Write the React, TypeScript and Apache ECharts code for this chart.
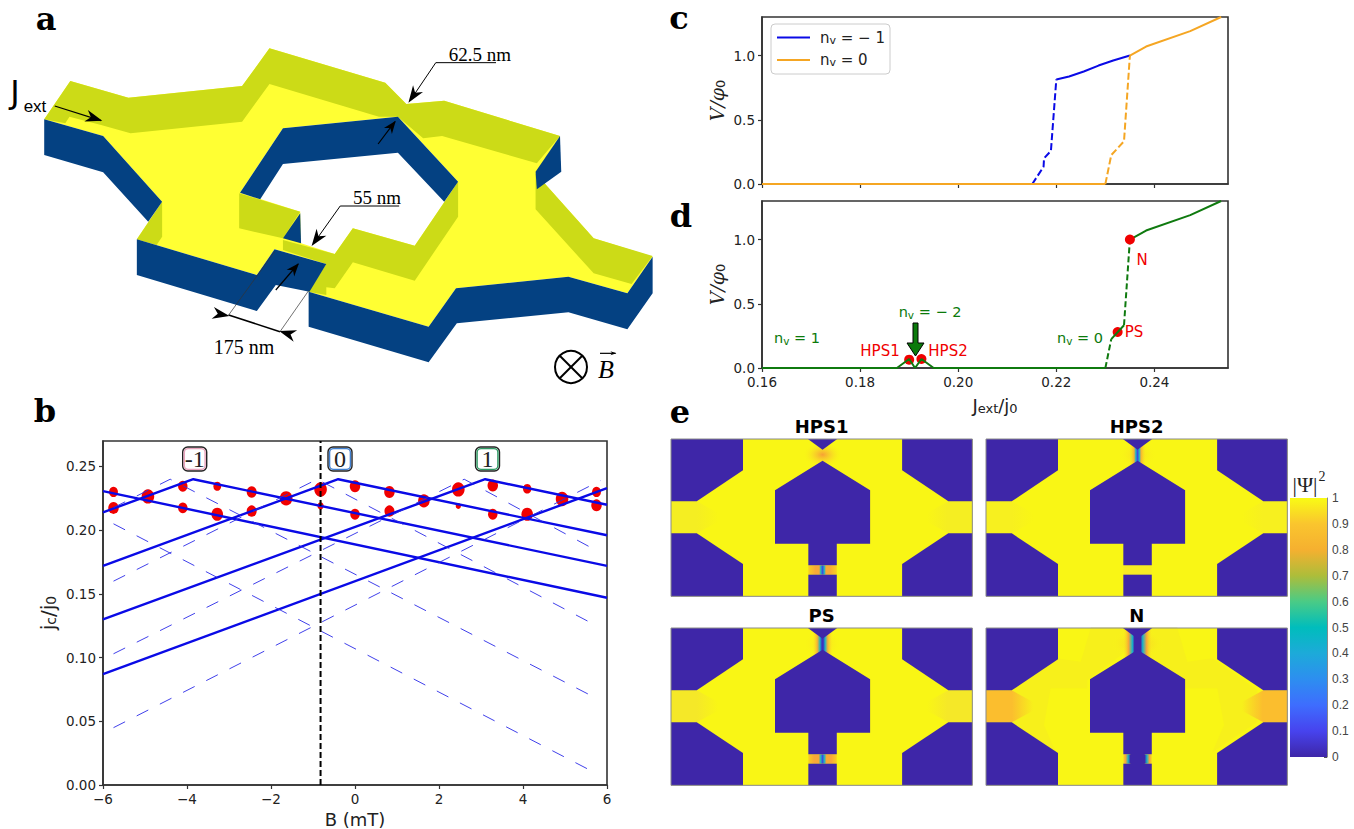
import React, { useEffect, useRef } from "react";
import * as echarts from "echarts";

// ---------- panel b data ----------
const bSolid1 = [[-6, 0.214], [-3.85, 0.24], [6, 0.172]];
const bSolid2 = [[-6, 0.172], [-0.4, 0.24], [6, 0.196]];
const bSolid3 = [[-6, 0.13], [3.1, 0.24], [6, 0.22]];
const bSolid4 = [[-6, 0.087], [6, 0.233]];
const bSolid5 = [[-6, 0.2307], [6, 0.147]];
const bDash1 = [[-5.75, 0.2177], [-4.4, 0.24], [5.75, 0.068]];
const bDash2 = [[-5.75, 0.16], [-0.9, 0.24], [5.75, 0.125]];
const bDash3 = [[-5.75, 0.103], [2.6, 0.24], [5.75, 0.184]];
const bDash4 = [[-5.75, 0.045], [5.85, 0.239]];
const bDash5 = [[-5.75, 0.205], [5.75, 0.009]];
const bVertical = [[-0.82, 0], [-0.82, 0.27]];
// x, y, marker weight
const bDots = [
  [-5.75, 0.23, 8.5], [-5.75, 0.2175, 10], [-4.93, 0.2265, 12], [-4.1, 0.2345, 9], [-4.1, 0.2175, 9],
  [-3.28, 0.2345, 7.5], [-3.28, 0.2125, 11], [-2.46, 0.23, 9.5], [-2.46, 0.215, 9.5], [-1.64, 0.225, 12],
  [-0.82, 0.232, 12], [-0.82, 0.219, 6], [0, 0.2345, 10], [0, 0.2125, 9], [0.82, 0.23, 10], [0.82, 0.215, 9.5],
  [1.64, 0.223, 11], [2.46, 0.232, 12], [2.46, 0.219, 5], [3.28, 0.235, 10], [3.28, 0.2125, 9], [4.1, 0.2325, 8],
  [4.1, 0.2125, 11], [4.93, 0.2245, 12], [5.75, 0.23, 8.5], [5.75, 0.2195, 10],
];
const bXTicks = [-6, -4, -2, 0, 2, 4, 6];
const bYTicks = [0, 0.05, 0.1, 0.15, 0.2, 0.25];

// ---------- panels c, d data ----------
const cBlueFlat = [[0.16, 0], [0.2151, 0]];
const cBlueDash = [[0.2151, 0], [0.2174, 0.134], [0.2175, 0.2], [0.2189, 0.258], [0.22, 0.814]];
const cBlueSolid = [[0.22, 0.814], [0.2226, 0.837], [0.2256, 0.876], [0.2286, 0.922], [0.2316, 0.961], [0.235, 1.0]];
const cOrangeFlat = [[0.16, 0], [0.23, 0]];
const cOrangeDash = [[0.23, 0], [0.2312, 0.225], [0.2338, 0.333], [0.235, 1.0]];
const cOrangeSolid = [[0.235, 1.0], [0.2383, 1.07], [0.2473, 1.19], [0.2536, 1.3]];
const dSolidLow = [[0.16, 0], [0.1875, 0], [0.19, 0.07], [0.1912, 0], [0.1925, 0.07], [0.195, 0], [0.23, 0]];
const dDashA = [[0.23, 0], [0.2312, 0.225]];
const dSolidMid = [[0.2312, 0.225], [0.2338, 0.333]];
const dDashB = [[0.2338, 0.333], [0.235, 1.0]];
const dSolidHigh = [[0.235, 1.0], [0.2383, 1.07], [0.2473, 1.19], [0.2536, 1.3]];
const dDotsLow = [[0.19, 0.065], [0.1925, 0.07], [0.2325, 0.28]];
const dDotsTop = [[0.235, 1.0]];
const jXTicks = [0.16, 0.18, 0.2, 0.22, 0.24];
const vYTicks = [0, 0.5, 1];

// ---------- colour bar ----------
const parulaStops = [
  [0, "#3E26A8"], [0.1, "#4743EE"], [0.2, "#3E6DFE"], [0.3, "#2D8EF0"], [0.4, "#1DAAD9"], [0.5, "#00BDBC"],
  [0.6, "#4ACB86"], [0.7, "#ADBD3A"], [0.8, "#F5B030"], [0.9, "#FAC52E"], [1, "#F9FB15"],
];
const barValue = [1];

// ---------- schematic a (in a crop's own units) ----------
const aYellow = [[105,358],[245,408],[385,605],[325,718],[610,825],[652,748],[775,792],[733,875],[1018,980],[1083,865],[1350,830],[1490,880],[1550,770],[1410,715],[1272,520],[1330,408],[1055,302],[965,312],[915,248],[640,145],[575,258],[305,293],[167,243]];
const aHole = [[570,578],[672,385],[945,350],[1088,545],[985,737],[838,685],[795,762],[715,730],[713,635]];
const aOlive = [
  [[105,358],[167,243],[305,293],[575,258],[640,145],[915,248],[965,312],[1055,302],[1330,408],[1275,490],[1050,408],[1005,415],[945,350],[900,350],[640,252],[575,365],[310,400],[240,375],[165,350],[155,370]],
  [[568,580],[713,635],[672,715],[568,685]],
  [[672,720],[795,762],[838,685],[985,737],[1088,545],[1088,650],[985,842],[838,787],[795,865],[775,862],[775,885],[733,875],[775,792],[672,750]],
  [[1272,520],[1410,715],[1550,768],[1500,852],[1410,820],[1272,628]],
  [[385,605],[385,710],[372,735],[325,718]],
];
const aBlue = [
  [[105,358],[245,408],[385,605],[352,665],[245,517],[105,465]],
  [[325,718],[610,825],[652,748],[775,792],[735,875],[655,855],[610,933],[325,825]],
  [[733,875],[1018,980],[1083,865],[1350,830],[1490,880],[1550,770],[1550,880],[1490,988],[1350,937],[1085,970],[1018,1087],[733,980]],
  [[1330,408],[1272,515],[1275,568],[1333,515]],
  [[570,578],[672,385],[945,350],[1088,545],[1055,605],[945,458],[672,492],[618,598]],
  [[713,640],[672,715],[715,730]],
];

// ---------- map panels e (in a crop's own units) ----------
const eHoles = [
  [[24,118],[186,118],[186,212],[82,305],[24,305]],
  [[702,118],[544,118],[544,212],[648,305],[702,305]],
  [[24,590],[186,590],[186,493],[82,401],[24,401]],
  [[702,590],[544,590],[544,493],[648,401],[702,401]],
  [[332,118],[398,118],[365,150]],
  [[365,183],[472,272],[472,432],[397,432],[397,497],[333,497],[333,432],[258,432],[258,272]],
  [[333,525],[397,525],[397,590],[333,590]],
];
const nTintLeft = [[320,8],[430,8],[440,70],[310,165],[310,190],[200,190],[180,300],[215,382],[80,290],[80,195],[215,100],[290,110]];

const OUT = "rgba(249,251,21,0)";
const OR = "#F7A838";
function hStops(list: any[]) { return list.map(([offset, color]) => ({ offset, color })); }
const hg = (list: any[]) => new echarts.graphic.LinearGradient(0, 0, 1, 0, hStops(list));
const rg = (list: any[]) => new echarts.graphic.RadialGradient(0.5, 0.5, 0.5, hStops(list));

const neckStops: any = {
  HPS2: [[0, OUT], [0.3, "rgba(247,168,56,.8)"], [0.4, "#19B4C8"], [0.5, "#3E4AE0"], [0.6, "#19B4C8"], [0.7, "rgba(247,168,56,.8)"], [1, OUT]],
  PS: [[0, OUT], [0.25, "rgba(247,168,56,.85)"], [0.38, "#19B4C8"], [0.47, "#3E30C0"], [0.53, "#3E30C0"], [0.62, "#19B4C8"], [0.75, "rgba(247,168,56,.85)"], [1, OUT]],
  N: [[0, OUT], [0.2, OR], [0.33, "#19B4C8"], [0.4, "#3E26A8"], [0.6, "#3E26A8"], [0.67, "#19B4C8"], [0.8, OR], [1, OUT]],
};
const bridgeStops: any = {
  HPS1: [[0, "#F9D020"], [0.25, OR], [0.38, OR], [0.44, "#19B4C8"], [0.5, "#3E4AE0"], [0.56, "#19B4C8"], [0.62, OR], [0.75, OR], [1, "#F9D020"]],
  HPS2: [[0, "#F7EC24"], [1, "#F7EC24"]],
  PS: [[0, "#F9D020"], [0.2, OR], [0.36, OR], [0.44, "#19B4C8"], [0.5, "#3E4AE0"], [0.56, "#19B4C8"], [0.64, OR], [0.8, OR], [1, "#F9D020"]],
  N: [[0, "#F7D828"], [0.08, OR], [0.17, "#19B4C8"], [0.25, "#3E26A8"], [0.75, "#3E26A8"], [0.83, "#19B4C8"], [0.92, OR], [1, "#F7D828"]],
};
const tabColor: any = { HPS1: "#F5EE22", HPS2: "#F7F01F", PS: "#F5E828", N: "#FBBE2E" };

function ePanel(title: string, ox: number, oy: number) {
  const m = (p: number[]) => [ox + (p[0] - 24) / 2.25, oy + (p[1] - 118) / 3];
  const rect = (x0: number, y0: number, x1: number, y1: number, fill: any) => {
    const a = m([x0, y0]); const b = m([x1, y1]);
    return { type: "rect", shape: { x: a[0], y: a[1], width: b[0] - a[0], height: b[1] - a[1] }, style: { fill }, silent: true };
  };
  const out: any[] = [rect(24, 118, 702, 590, "#F9F615")];
  if (title === "N") {
    const conv = (p: number[]) => [ox - 2 + p[0] / 3, oy - 3 + p[1] / 3];
    const mir = (p: number[]) => [900 - p[0], p[1]];
    out.push({ type: "polygon", shape: { points: nTintLeft.map(conv) }, style: { fill: "#F7F01B" }, silent: true });
    out.push({ type: "polygon", shape: { points: nTintLeft.map(mir).map(conv) }, style: { fill: "#F7F01B" }, silent: true });
  }
  const tc = tabColor[title];
  const tc0 = tc + "00";
  const tabL = [[24,305],[82,305],[130,340],[130,366],[82,401],[24,401]];
  const tabR = [[702,305],[648,305],[600,340],[600,366],[648,401],[702,401]];
  out.push({ type: "polygon", shape: { points: tabL.map(m) }, style: { fill: hg([[0, tc], [0.55, tc], [1, tc0]]) }, silent: true });
  out.push({ type: "polygon", shape: { points: tabR.map(m) }, style: { fill: hg([[0, tc0], [0.45, tc], [1, tc]]) }, silent: true });
  if (title === "HPS1") {
    out.push(rect(320, 125, 410, 205, rg([[0, "#F7A035"], [0.45, "rgba(247,190,50,.5)"], [1, OUT]])));
  } else {
    const wide = title === "N" ? 60 : 45;
    out.push(rect(365 - wide, 120, 365 + wide, 210, rg([[0, title === "N" ? "rgba(247,180,50,.85)" : "rgba(247,190,50,.5)"], [1, OUT]])));
    const half = title === "HPS2" ? 20 : title === "PS" ? 24 : 34;
    out.push(rect(365 - half, 125, 365 + half, 205, hg(neckStops[title])));
  }
  out.push(rect(333, 497, 397, 525, hg(bridgeStops[title])));
  eHoles.forEach((h) => out.push({ type: "polygon", shape: { points: h.map(m) }, style: { fill: "#3E26A8" }, silent: true }));
  if (title === "N") {
    out.push(rect(349, 490, 381, 532, "#3E26A8"));
  }
  const a = m([24, 118]); const b = m([702, 590]);
  out.push({ type: "rect", shape: { x: a[0], y: a[1], width: b[0] - a[0], height: b[1] - a[1] }, style: { fill: "none", stroke: "#8a8a8a", lineWidth: 1 }, silent: true });
  out.push({ type: "text", x: (a[0] + b[0]) / 2, y: a[1] - 13, style: { text: title, font: "bold 18px 'DejaVu Sans'", fill: "#000", align: "center", verticalAlign: "middle" }, silent: true });
  return out;
}

function schematic() {
  const s = (p: number[]) => [p[0] / 2.375, p[1] / 3];
  const poly = (pts: number[][], fill: string) => ({ type: "polygon", shape: { points: pts.map(s) }, style: { fill }, silent: true });
  const line = (pts: number[][], w = 1, color = "#000") => ({ type: "polyline", shape: { points: pts.map(s) }, style: { stroke: color, lineWidth: w, fill: "none" }, silent: true });
  const head = (tail: number[], tip: number[], L = 17, W = 6) => {
    const a = s(tail); const b = s(tip);
    const d = Math.hypot(b[0] - a[0], b[1] - a[1]);
    const ux = (b[0] - a[0]) / d; const uy = (b[1] - a[1]) / d;
    const pts = [b, [b[0] - ux * L - uy * W, b[1] - uy * L + ux * W], [b[0] - ux * L * 0.7, b[1] - uy * L * 0.7], [b[0] - ux * L + uy * W, b[1] - uy * L - ux * W]];
    return { type: "polygon", shape: { points: pts }, style: { fill: "#000" }, silent: true };
  };
  const txt = (x: number, y: number, text: string, font: string, fill = "#000", extra: any = {}) => ({ type: "text", x, y, style: { text, font, fill, align: "center", verticalAlign: "middle", ...extra }, silent: true });
  const out: any[] = [];
  out.push(poly(aYellow, "#FFFF33"));
  out.push(poly(aHole, "#FFFFFF"));
  aOlive.forEach((p) => out.push(poly(p, "#CCDB17")));
  aBlue.forEach((p) => out.push(poly(p, "#044182")));
  out.push(line([[1178, 188], [1035, 188], [975, 300]]), head([1035, 188], [970, 308]));
  out.push(line([[948, 618], [808, 618], [745, 730]]), head([808, 618], [740, 738]));
  out.push(line([[130, 318], [240, 362]], 1.2), head([130, 318], [243, 362]));
  out.push(line([[898, 432], [938, 365]], 1.2), head([898, 432], [940, 362], 13, 5));
  out.push(line([[655, 870], [708, 792]], 1.2), head([655, 870], [710, 790], 13, 5));
  out.push(line([[543, 945], [665, 995]], 1.6), head([450, 925], [545, 948]), head([760, 1030], [663, 993]));
  out.push(line([[543, 945], [652, 755]], 0.7, "#333"), line([[665, 995], [733, 872]], 0.7, "#333"));
  out.push(txt(480, 54, "62.5 nm", "19px 'Liberation Serif'"));
  out.push(txt(377, 197, "55 nm", "19px 'Liberation Serif'"));
  out.push(txt(244, 347, "175 nm", "20px 'Liberation Serif'"));
  out.push(txt(15, 92, "J", "32px 'DejaVu Sans'"));
  out.push(txt(35, 106, "ext", "17px 'Liberation Sans'"));
  out.push({ type: "circle", shape: { cx: 571, cy: 367, r: 16 }, style: { fill: "none", stroke: "#000", lineWidth: 2 }, silent: true });
  out.push({ type: "line", shape: { x1: 560, y1: 356, x2: 582, y2: 378 }, style: { stroke: "#000", lineWidth: 2 }, silent: true });
  out.push({ type: "line", shape: { x1: 582, y1: 356, x2: 560, y2: 378 }, style: { stroke: "#000", lineWidth: 2 }, silent: true });
  out.push(txt(606, 369, "B", "italic 26px 'Liberation Serif'"));
  out.push(line([[1425, 1060], [1462, 1060]], 1.2), head([1425, 1060], [1464, 1060], 6, 2));
  return out;
}

function labelBox(cx: number, cy: number, text: string, ring: string, fill: string) {
  return [
    { type: "rect", z: 20, shape: { x: cx - 12, y: cy - 12, width: 24, height: 24, r: 5 }, style: { fill, stroke: "#222", lineWidth: 1.4 }, silent: true },
    { type: "rect", z: 20, shape: { x: cx - 10.4, y: cy - 10.4, width: 20.8, height: 20.8, r: 4 }, style: { fill: "#fff", stroke: ring, lineWidth: 1.4 }, silent: true },
    { type: "text", z: 21, x: cx, y: cy, style: { text, font: "24px 'Liberation Serif'", fill: "#222", align: "center", verticalAlign: "middle" }, silent: true },
  ];
}

const gt = (x: number, y: number, text: string, fill: string, font = "15px 'DejaVu Sans'") => ({
  type: "text", z: 20, x, y, style: { text, font, fill, align: "center", verticalAlign: "middle" }, silent: true,
});
const gr = (x: number, y: number, text: string, fill: string) => ({
  type: "text", z: 20, x, y,
  style: { text, fill, align: "center", verticalAlign: "middle", rich: { a: { font: "14.5px 'DejaVu Sans'", fill }, s: { font: "10.5px 'DejaVu Sans'", fill, padding: [5, 0, 0, 0] } } },
  silent: true,
});

const axisBase = (gridIndex: number) => ({
  gridIndex,
  axisLine: { onZero: false, lineStyle: { color: "#333", width: 1.6 } },
  axisTick: { lineStyle: { color: "#333", width: 1.2 }, length: 4 },
  axisLabel: { color: "#222", fontFamily: "DejaVu Sans", fontSize: 13.5, margin: 7 },
  splitLine: { show: false },
});

const lineS = (data: number[][], x: number, color: string, width: number, type: any = "solid", name?: string) => ({
  type: "line", name, xAxisIndex: x, yAxisIndex: x, data, showSymbol: false, symbol: "none",
  lineStyle: { color, width, type }, itemStyle: { color }, silent: true, z: 3, animation: false,
});

export default function App() {
  const ref = useRef<HTMLDivElement>(null);
  useEffect(() => {
    const chart = echarts.init(ref.current as HTMLDivElement, undefined, { renderer: "svg" });
    const graphic: any[] = [
      ...schematic(),
      ...ePanel("HPS1", 671, 439),
      ...ePanel("HPS2", 986, 439),
      ...ePanel("PS", 671, 628),
      ...ePanel("N", 986, 628),
      ...labelBox(194.7, 459, "-1", "#E8A3BC", "#FFF0F5"),
      ...labelBox(340, 459, "0", "#3F7FD0", "#EAF2FF"),
      ...labelBox(487.5, 459, "1", "#2F9A64", "#EAFFF2"),
      gt(46, 19, "a", "#000", "bold 32px 'DejaVu Serif'"),
      gt(45, 411, "b", "#000", "bold 32px 'DejaVu Serif'"),
      gt(679, 18, "c", "#000", "bold 32px 'DejaVu Serif'"),
      gt(681, 216, "d", "#000", "bold 32px 'DejaVu Serif'"),
      gt(680, 412, "e", "#000", "bold 32px 'DejaVu Serif'"),
      gr(797, 338, "{a|n}{s|v}{a| = 1}", "#0B7A0B"),
      gr(930, 312, "{a|n}{s|v}{a| = − 2}", "#0B7A0B"),
      gr(1080, 338, "{a|n}{s|v}{a| = 0}", "#0B7A0B"),
      gt(880, 351, "HPS1", "#F00000"),
      gt(948, 351, "HPS2", "#F00000"),
      gt(1134, 332, "PS", "#F00000"),
      gt(1142, 260, "N", "#F00000"),
      { type: "polygon", z: 20, shape: { points: [[913, 323], [918, 323], [918, 343], [924, 343], [915.5, 356], [907, 343], [913, 343]] }, style: { fill: "#0B7A0B", stroke: "#000", lineWidth: 1 }, silent: true },
      { type: "text", z: 20, x: 1305, y: 484, style: { text: "|Ψ|", font: "22px 'Liberation Serif'", fill: "#222", align: "center", verticalAlign: "middle" }, silent: true },
      { type: "text", z: 20, x: 1322, y: 476, style: { text: "2", font: "14px 'Liberation Serif'", fill: "#222", align: "center", verticalAlign: "middle" }, silent: true },
    ];
    const subRich = (size: number, sub: number) => ({
      a: { fontFamily: "DejaVu Sans", fontSize: size, color: "#222" },
      s: { fontFamily: "DejaVu Sans", fontSize: sub, color: "#222", padding: [7, 0, 0, 0] },
    });
    const cAxisX = (i: number, labels: boolean, name?: any) => ({
      ...axisBase(i), type: "value", min: 0.16, max: 0.255, interval: 0.02,
      axisTick: { ...axisBase(i).axisTick, customValues: jXTicks },
      axisLabel: { ...axisBase(i).axisLabel, show: labels, customValues: jXTicks, formatter: (v: number) => v.toFixed(2) },
      name, nameLocation: "middle", nameGap: 27,
      nameTextStyle: { rich: subRich(18, 13) },
    });
    const cAxisY = (i: number) => ({
      ...axisBase(i), type: "value", min: 0, max: 1.3, interval: 0.5,
      axisTick: { ...axisBase(i).axisTick, customValues: vYTicks },
      axisLabel: { ...axisBase(i).axisLabel, customValues: vYTicks, formatter: (v: number) => v.toFixed(1) },
      name: "{i|V/φ}{s|0}", nameLocation: "middle", nameGap: 35, nameRotate: 90,
      nameTextStyle: { rich: { i: { fontFamily: "DejaVu Serif", fontStyle: "italic", fontSize: 19, color: "#222" }, s: { fontFamily: "DejaVu Sans", fontSize: 13, color: "#222", padding: [7, 0, 0, 0] } } },
    });
    const border = { show: true, borderColor: "#333", borderWidth: 1.6, outerBoundsMode: "none" };
    chart.setOption({
      animation: false,
      backgroundColor: "#fff",
      grid: [
        { left: 103, top: 441, width: 504, height: 344, ...border },
        { left: 762, top: 17, width: 466, height: 167, ...border },
        { left: 762, top: 201, width: 466, height: 167, ...border },
        { left: 1290, top: 498, width: 37, height: 259, outerBoundsMode: "none" },
      ],
      xAxis: [
        {
          ...axisBase(0), type: "value", min: -6, max: 6, interval: 2,
          axisLabel: { ...axisBase(0).axisLabel, formatter: (v: number) => (bXTicks.includes(v) ? String(v).replace("-", "−") : "") },
          name: "B (mT)", nameLocation: "middle", nameGap: 25,
          nameTextStyle: { fontFamily: "DejaVu Sans", fontSize: 18, color: "#222" },
        },
        cAxisX(1, false),
        cAxisX(2, true, "{a|J}{s|ext}{a|/j}{s|0}"),
        { gridIndex: 3, type: "category", data: ["bar"], show: false },
      ],
      yAxis: [
        {
          ...axisBase(0), type: "value", min: 0, max: 0.27, interval: 0.05,
          axisTick: { ...axisBase(0).axisTick, customValues: bYTicks },
          axisLabel: { ...axisBase(0).axisLabel, customValues: bYTicks, formatter: (v: number) => v.toFixed(2) },
          name: "{a|j}{s|c}{a|/j}{s|0}", nameLocation: "middle", nameGap: 45, nameRotate: 90,
          nameTextStyle: { rich: subRich(20, 14) },
        },
        cAxisY(1),
        cAxisY(2),
        {
          gridIndex: 3, type: "value", position: "right", min: 0, max: 1, interval: 0.1,
          axisLine: { show: true, lineStyle: { color: "#8a8a8a", width: 1 } },
          axisTick: { show: true, inside: true, length: 3, lineStyle: { color: "#555" } },
          axisLabel: { color: "#444", fontFamily: "Liberation Sans", fontSize: 12, margin: 5, formatter: (v: number) => String(Math.round(v * 10) / 10) },
          splitLine: { show: false },
        },
      ],
      legend: {
        left: 771, top: 24, orient: "vertical", data: ["nv1", "nv0"], icon: "rect",
        itemWidth: 33, itemHeight: 2.2, itemGap: 7, padding: [6, 5, 6, 6],
        backgroundColor: "#fff", borderColor: "#ccc", borderWidth: 1, borderRadius: 4,
        formatter: (n: string) => (n === "nv1" ? "{a|n}{s|v}{a| = − 1}" : "{a|n}{s|v}{a| = 0}"),
        textStyle: { padding: [0, 0, 0, 5], rich: { a: { fontFamily: "DejaVu Sans", fontSize: 15, color: "#222" }, s: { fontFamily: "DejaVu Sans", fontSize: 11, color: "#222", padding: [5, 0, 0, 0] } } },
      },
      series: [
        ...[bSolid1, bSolid2, bSolid3, bSolid4, bSolid5].map((d) => lineS(d, 0, "#0A0AE6", 2.4)),
        ...[bDash1, bDash2, bDash3, bDash4, bDash5].map((d) => lineS(d, 0, "#2A2AE8", 0.9, [13, 13])),
        { ...lineS(bVertical, 0, "#000", 2, [6, 3]), z: 5 },
        {
          type: "scatter", xAxisIndex: 0, yAxisIndex: 0, data: bDots, symbolSize: (v: number[]) => [v[2] * 1.05, v[2] * 1.2],
          itemStyle: { color: "#F00000", opacity: 1 }, silent: true, z: 2,
        },
        lineS(cBlueFlat, 1, "#0A0AE6", 2),
        lineS(cBlueDash, 1, "#0A0AE6", 2, [7, 3]),
        lineS(cBlueSolid, 1, "#0A0AE6", 2, "solid", "nv1"),
        lineS(cOrangeFlat, 1, "#F5A623", 2),
        lineS(cOrangeDash, 1, "#F5A623", 2, [7, 3]),
        lineS(cOrangeSolid, 1, "#F5A623", 2, "solid", "nv0"),
        lineS(dSolidLow, 2, "#0F7A0F", 2),
        lineS(dDashA, 2, "#0F7A0F", 2, [6, 3]),
        lineS(dSolidMid, 2, "#0F7A0F", 2),
        lineS(dDashB, 2, "#0F7A0F", 2, [6, 3]),
        lineS(dSolidHigh, 2, "#0F7A0F", 2),
        { type: "scatter", xAxisIndex: 2, yAxisIndex: 2, data: dDotsLow, symbolSize: 10, itemStyle: { color: "#F00000", opacity: 1 }, silent: true, z: 2 },
        { type: "scatter", xAxisIndex: 2, yAxisIndex: 2, data: dDotsTop, symbolSize: 10, itemStyle: { color: "#F00000", opacity: 1 }, silent: true, z: 4 },
        {
          type: "bar", xAxisIndex: 3, yAxisIndex: 3, data: barValue, barWidth: "100%", silent: true,
          itemStyle: {
            color: new echarts.graphic.LinearGradient(0, 1, 0, 0, parulaStops.map(([offset, color]) => ({ offset: offset as number, color: color as string }))),
          },
        },
      ],
      graphic: { elements: graphic },
    });
    return () => chart.dispose();
  }, []);
  return <div ref={ref} style={{ position: "absolute", left: 0, top: 0, width: 1354, height: 829 }} />;
}
